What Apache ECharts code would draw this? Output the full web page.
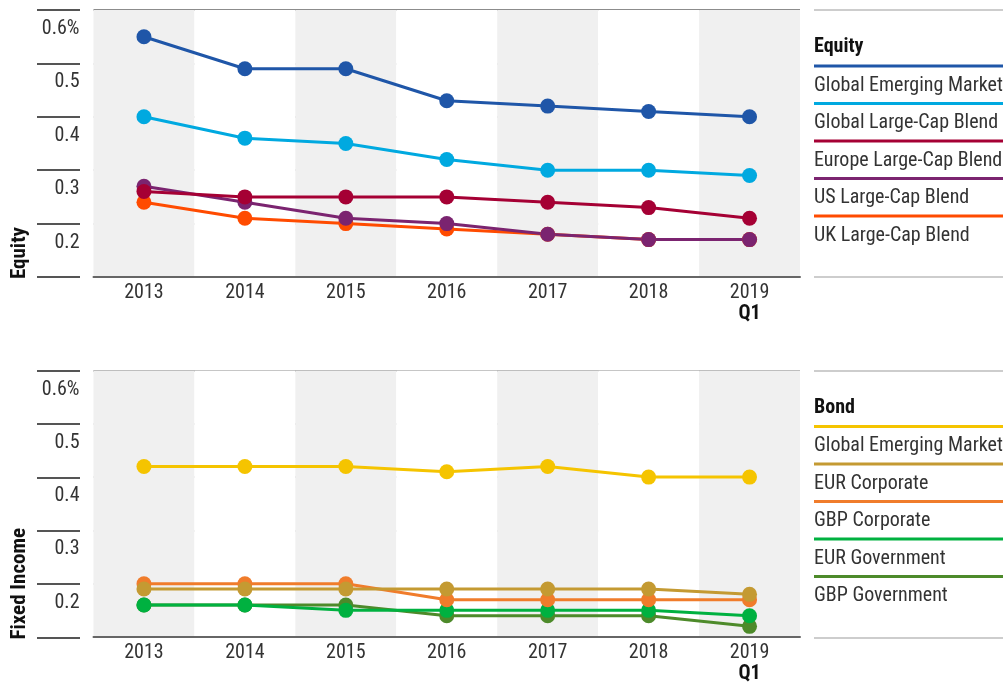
<!DOCTYPE html>
<html>
<head>
<meta charset="utf-8">
<script src="https://cdn.jsdelivr.net/npm/echarts@6/dist/echarts.min.js"></script>
<style>html,body{margin:0;padding:0;background:#fff}#c{width:1003px;height:684px}</style>
</head>
<body>
<div id="c"></div>
<script>
// ---- data ----
const categories = ['2013', '2014', '2015', '2016', '2017', '2018', '2019'];
const lastCategorySuffix = 'Q1';
const yTickLabels = { '0.1': '', '0.2': '0.2', '0.3': '0.3', '0.4': '0.4', '0.5': '0.5', '0.6': '0.6%' };

const eqNames = ['Global Emerging Markets', 'Global Large-Cap Blend', 'Europe Large-Cap Blend', 'US Large-Cap Blend', 'UK Large-Cap Blend'];
const eqGlobalEM = [0.55, 0.49, 0.49, 0.43, 0.42, 0.41, 0.40];
const eqGlobalLC = [0.40, 0.36, 0.35, 0.32, 0.30, 0.30, 0.29];
const eqEurope   = [0.26, 0.25, 0.25, 0.25, 0.24, 0.23, 0.21];
const eqUS       = [0.27, 0.24, 0.21, 0.20, 0.18, 0.17, 0.17];
const eqUK       = [0.24, 0.21, 0.20, 0.19, 0.18, 0.17, 0.17];
const eqColors = ['#1f56a8', '#00a9e0', '#a50034', '#7b2470', '#ff4b00'];

const bdNames = ['Global Emerging Markets', 'EUR Corporate', 'GBP Corporate', 'EUR Government', 'GBP Government'];
const bdGlobalEM = [0.42, 0.42, 0.42, 0.41, 0.42, 0.40, 0.40];
const bdEURCorp  = [0.19, 0.19, 0.19, 0.19, 0.19, 0.19, 0.18];
const bdGBPCorp  = [0.20, 0.20, 0.20, 0.17, 0.17, 0.17, 0.17];
const bdEURGov   = [0.16, 0.16, 0.15, 0.15, 0.15, 0.15, 0.14];
const bdGBPGov   = [0.16, 0.16, 0.16, 0.14, 0.14, 0.14, 0.12];
const bdColors = ['#f5c400', '#c49a32', '#f07c2b', '#00b140', '#4d8a2a'];

const eqValues = [eqGlobalEM, eqGlobalLC, eqEurope, eqUS, eqUK];
const bdValues = [bdGlobalEM, bdEURCorp, bdGBPCorp, bdEURGov, bdGBPGov];

// ---- style ----
const FONT = "'Liberation Sans Narrow', 'Roboto Condensed', 'DejaVu Sans Condensed', sans-serif";
const FS = 20;
const panels = [
  { top: 10, names: eqNames, values: eqValues, colors: eqColors, title: 'Equity', axisName: 'Equity' },
  { top: 370.5, names: bdNames, values: bdValues, colors: bdColors, title: 'Bond', axisName: 'Fixed Income' }
];
const H = 267;
const PLOT_LEFT = 93.5, PLOT_RIGHT = 203;
const LEG_PERIOD = 37.5;

const grids = [], xAxes = [], yAxes = [], series = [], legends = [], titles = [], graphics = [];

panels.forEach((p, pi) => {
  // main plot
  const gMain = grids.length;
  grids.push({ left: PLOT_LEFT, right: PLOT_RIGHT, top: p.top, height: H });
  xAxes.push({
    gridIndex: gMain, type: 'category', data: categories, boundaryGap: true,
    axisLine: { show: true, lineStyle: { color: '#666', width: 2 } },
    axisTick: { show: false },
    splitArea: { show: true, areaStyle: { color: ['#f0f0f0', '#ffffff'] } },
    axisLabel: {
      margin: 5, fontFamily: FONT, fontSize: FS, color: '#333', lineHeight: 21,
      formatter: (v, i) => i === categories.length - 1 ? v + '\n{b|' + lastCategorySuffix + '}' : v,
      rich: { b: { fontFamily: FONT, fontSize: FS, fontWeight: 'bold', color: '#111', lineHeight: 21 } }
    }
  });
  yAxes.push({
    gridIndex: gMain, type: 'value', min: 0.1, max: 0.6, interval: 0.1,
    axisLine: { show: false }, axisTick: { show: false },
    splitLine: { show: true, lineStyle: { color: ['#666', '#c8c8c8', '#c8c8c8', '#c8c8c8', '#c8c8c8', '#666'], width: 1.5 } },
    axisLabel: {
      margin: 14, fontFamily: FONT, fontSize: FS, color: '#333', verticalAlign: 'top', padding: [9, 0, 0, 0],
      formatter: v => { const k = (Math.round(v * 10) / 10).toFixed(1); return yTickLabels[k] !== undefined ? yTickLabels[k] : k; }
    }
  });
  // draw order: reverse of legend order
  for (let k = p.names.length - 1; k >= 0; k--) {
    series.push({
      type: 'line', name: p.names[k], xAxisIndex: gMain, yAxisIndex: gMain,
      data: p.values[k], symbol: 'circle', symbolSize: 15, showSymbol: true,
      lineStyle: { color: p.colors[k], width: 3 }, itemStyle: { color: p.colors[k] },
      emphasis: { disabled: true }, silent: true, z: 2
    });
  }
  // left tick-line decoration grid
  const gLeft = grids.length;
  grids.push({ left: 37, width: 43, top: p.top, height: H });
  xAxes.push({ gridIndex: gLeft, type: 'value', show: false });
  yAxes.push({
    gridIndex: gLeft, type: 'value', min: 0.1, max: 0.6, interval: 0.1,
    axisLine: { show: false }, axisTick: { show: false }, axisLabel: { show: false },
    splitLine: { show: true, lineStyle: { color: '#555', width: 2 } }
  });
  // legend panel decoration grid
  const gLeg = grids.length;
  grids.push({ left: 814, right: 0, top: p.top, height: H });
  xAxes.push({ gridIndex: gLeg, type: 'value', show: false });
  yAxes.push({
    gridIndex: gLeg, type: 'value', min: 0, max: 1, interval: 1,
    axisLine: { show: false }, axisTick: { show: false }, axisLabel: { show: false },
    splitLine: { show: true, lineStyle: { color: '#bdbdbd', width: 1.5 } }
  });
  // legend title
  titles.push({
    text: p.title, left: 814, top: p.top + 27, padding: 0,
    textStyle: { fontFamily: FONT, fontSize: 20, fontWeight: 'bold', color: '#111' }
  });
  // legend: coloured bars (icons only)
  const barTop = p.top + 54.5;
  legends.push({
    orient: 'vertical', left: 814, top: barTop, padding: 0, itemGap: LEG_PERIOD - 3,
    itemWidth: 200, itemHeight: 3, icon: 'rect', selectedMode: false,
    data: p.names.map((n, k) => ({ name: n, icon: 'rect', itemStyle: { color: p.colors[k] } })),
    formatter: () => '',
    textStyle: { fontSize: 2, lineHeight: 3 }
  });
  // legend: names (text only)
  legends.push({
    orient: 'vertical', left: 809, top: barTop + 8, padding: 0, itemGap: LEG_PERIOD - 26,
    itemWidth: 0, itemHeight: 0, icon: 'rect', selectedMode: false,
    data: p.names.map((n, k) => ({ name: n, itemStyle: { color: 'rgba(0,0,0,0)' } })),
    textStyle: { fontFamily: FONT, fontSize: FS, color: '#333', lineHeight: 26 }
  });
  // rotated axis name
  graphics.push({
    type: 'text', x: 20, y: p.top + H + 2, rotation: Math.PI / 2,
    style: { text: p.axisName, font: 'bold 21px ' + FONT, fill: '#111', textAlign: 'left', textVerticalAlign: 'middle', align: 'left', verticalAlign: 'middle' }
  });
});

const chart = echarts.init(document.getElementById('c'), null, { renderer: 'canvas' });
chart.setOption({
  animation: false,
  backgroundColor: '#ffffff',
  title: titles,
  legend: legends,
  grid: grids,
  xAxis: xAxes,
  yAxis: yAxes,
  series: series,
  graphic: graphics
});
</script>
</body>
</html>
